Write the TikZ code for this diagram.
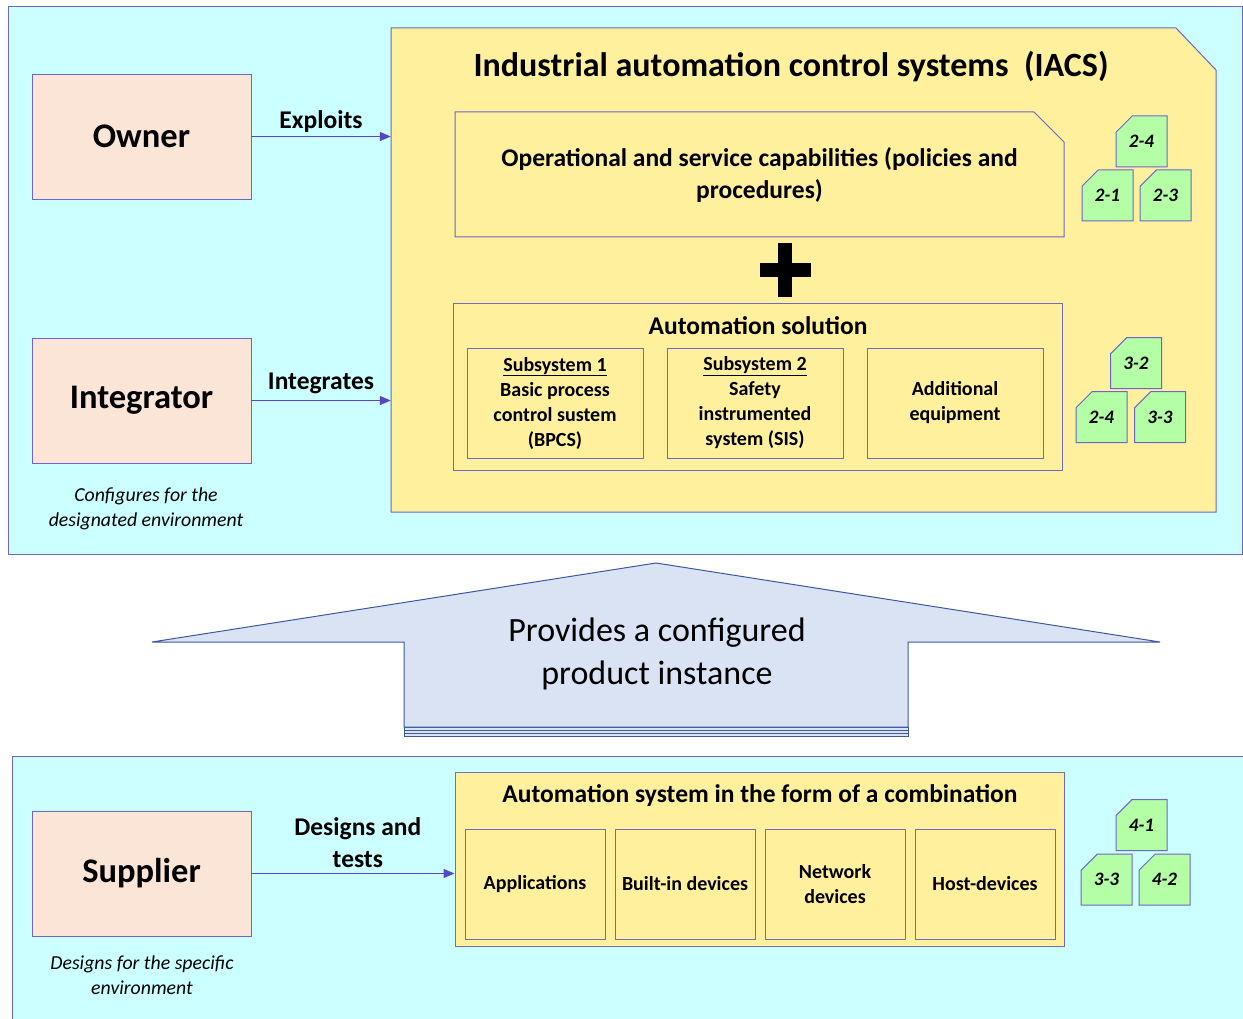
\documentclass[tikz,border=0pt]{standalone}
\usepackage{fontspec}
\setmainfont{Carlito}
\usetikzlibrary{
    shapes.misc,
    arrows.meta,
    positioning,
    calc
}
\definecolor{panelcyan}{RGB}{204,255,255}
\definecolor{edgeblue}{RGB}{112,100,204}
\definecolor{actorpeach}{RGB}{251,229,214}
\definecolor{iacsyellow}{RGB}{255,240,158}
\definecolor{taggreen}{RGB}{180,255,166}
\definecolor{flowviolet}{RGB}{88,70,200}
\definecolor{arrowfill}{RGB}{218,227,243}
\definecolor{arrowedge}{RGB}{60,88,160}
\tikzset{
    panel/.style = {
        rectangle,
        draw=edgeblue,
        fill=panelcyan,
        line width=1pt,
        inner sep=0pt
    },
    actor/.style = {
        rectangle,
        draw=edgeblue,
        fill=actorpeach,
        minimum width=219pt,
        minimum height=125pt,
        font=\fontsize{34.5}{40}\selectfont\bfseries
    },
    note/.style = {
        align=center,
        font=\fontsize{19.8}{25}\selectfont\itshape
    },
    iacsbox/.style = {
        draw=edgeblue,
        fill=iacsyellow,
        line width=1pt
    },
    groupbox/.style = {
        rectangle,
        draw=edgeblue!80!gray,
        fill=iacsyellow,
        line width=1pt,
        inner sep=0pt
    },
    unitbox/.style = {
        rectangle,
        draw=edgeblue!80!gray,
        fill=iacsyellow,
        minimum width=176pt,
        minimum height=110pt,
        align=center,
        font=\fontsize{20}{25}\selectfont\bfseries
    },
    partbox/.style = {
        unitbox,
        minimum width=140pt
    },
    heading/.style = {
        align=center,
        font=\fontsize{25.5}{32}\selectfont\bfseries
    },
    tagbox/.style = {
        chamfered rectangle,
        chamfered rectangle corners=north west,
        chamfered rectangle xsep=10pt,
        chamfered rectangle ysep=10pt,
        draw=edgeblue,
        fill=taggreen,
        line width=1pt,
        minimum width=51pt,
        minimum height=51pt,
        inner sep=0pt,
        font=\fontsize{19}{23}\selectfont\bfseries\itshape
    },
    flow/.style = {
        -{Triangle[length=11pt,width=9pt]},
        draw=flowviolet,
        line width=1.2pt
    },
    flowlabel/.style = {
        align=center,
        font=\fontsize{25.5}{32}\selectfont\bfseries
    },
    bigarrow/.style = {
        draw=arrowedge,
        fill=arrowfill,
        line width=1pt
    }
}

\begin{document}
\begin{tikzpicture}[x=1pt,y=-1pt]
\useasboundingbox (0,0) rectangle (1243,1019);

% upper panel
\node (top) [panel,minimum width=1234pt,minimum height=547pt] at (625,280.5) {};
\node (owner) [actor] at (141.5,136.5) {Owner};
\node (integrator) [actor] at (141.5,400.5) {Integrator};
\node (intnote) [note] at (146,509) {Configures for the\\designated environment};

\draw[iacsbox] (391,28) -- (1176,28) -- (1216,70) -- (1216,512) -- (391,512) -- cycle;
\node (iacs) [rectangle,inner sep=0pt,minimum width=825pt,minimum height=484pt] at (803.5,270) {};
\node (iacstitle) [font=\fontsize{34}{40}\selectfont\bfseries] at (791,67) {Industrial automation control systems\ \ (IACS)};

\draw[iacsbox] (455,112) -- (1034,112) -- (1064,142) -- (1064,237) -- (455,237) -- cycle;
\node (ops) [heading] at (759.5,175.5)
    {Operational and service capabilities (policies and\\procedures)};

% plus sign
\fill (760,263) rectangle (811,277);
\fill (778,243) rectangle (792,297);

\node (solution) [groupbox,minimum width=609pt,minimum height=166pt] at (757.5,387) {};
\node (soltitle) [heading] at (758,326) {Automation solution};
\node (sub1) [unitbox] at (555,403) {\underline{Subsystem 1}\\Basic process\\control sustem\\(BPCS)};
\node (sub2) [unitbox] at (755,403) {\underline{Subsystem 2}\\Safety\\instrumented\\system (SIS)};
\node (extra) [unitbox] at (955,403) {Additional\\equipment};

\node (t24) [tagbox] at (1141.5,141.5) {2-4};
\node (t21) [tagbox] at (1107.5,195.5) {2-1};
\node (t23) [tagbox] at (1165.5,195.5) {2-3};
\node (t32) [tagbox] at (1136,363) {3-2};
\node (t24b) [tagbox] at (1101.5,417) {2-4};
\node (t33) [tagbox] at (1160,417) {3-3};

\draw[flow] (owner.east) -- node[flowlabel,above] {Exploits} (owner.east -| iacs.west);
\draw[flow] (integrator.east) -- node[flowlabel,above=3pt] {Integrates} (integrator.east -| iacs.west);

% big arrow
\coordinate (tipL) at (152,642);
\coordinate (apex) at (656,563);
\coordinate (tipR) at (1160,642);
\draw[bigarrow] (404,727) rectangle (908,736);
\draw[arrowedge,line width=0.6pt] (404,730) -- (908,730) (404,733) -- (908,733);
\draw[bigarrow] (tipL) -- (apex) -- (tipR) -- (908,642) -- (908,727) -- (404,727) -- (404,642) -- cycle;
\node (provides) [align=center,font=\fontsize{34}{43}\selectfont] at (657,654) {Provides a configured\\product instance};

% lower panel
\node (bottom) [panel,minimum width=1248pt,minimum height=284pt] at (636,898) {};
\node (supplier) [actor] at (141.5,873.5) {Supplier};
\node (supnote) [note] at (142,975) {Designs for the specific\\environment};

\node (system) [groupbox,minimum width=609pt,minimum height=174pt] at (759.5,859) {};
\node (systitle) [heading] at (760,796) {Automation system in the form of a combination};
\node (apps) [partbox] at (535,884) {Applications};
\node (builtin) [partbox] at (685,884) {Built-in devices};
\node (netdev) [partbox] at (835,884) {Network\\devices};
\node (hostdev) [partbox] at (985,884) {Host-devices};

\node (t41) [tagbox] at (1141.5,825) {4-1};
\node (t33b) [tagbox] at (1106.5,879.5) {3-3};
\node (t42) [tagbox] at (1164.5,879.5) {4-2};

\draw[flow] (supplier.east) -- node[flowlabel,above,xshift=5pt,yshift=2pt] {Designs and\\tests} (supplier.east -| system.west);
\end{tikzpicture}
\end{document}
